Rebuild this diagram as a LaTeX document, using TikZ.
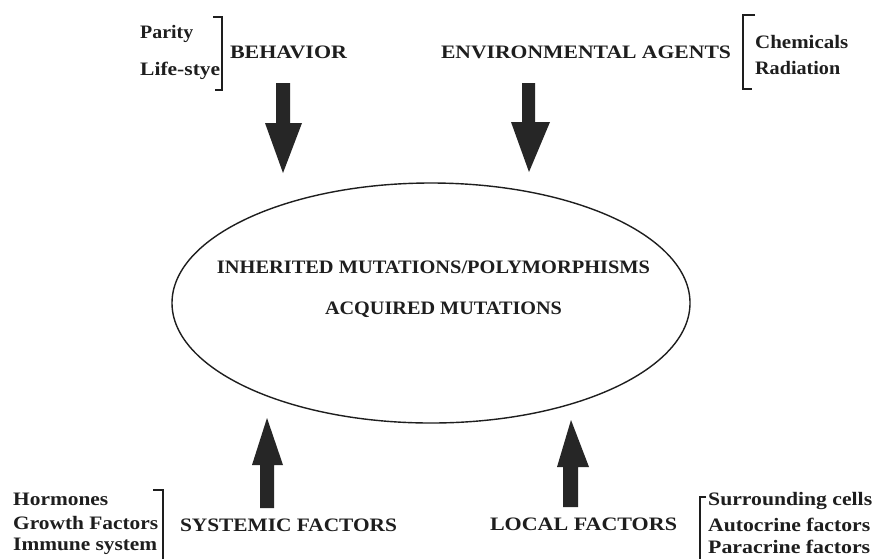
\documentclass[tikz,border=0pt]{standalone}
\usepackage{fontspec}
\usepackage{graphicx}
\setmainfont{Liberation Serif}
\usetikzlibrary{calc}
\definecolor{ink}{HTML}{1E1E1E}
\definecolor{arrowink}{HTML}{262626}
\newcommand{\fitto}[2]{\resizebox{#1}{\height}{#2}}
\tikzset{
  lbl/.style={inner sep=0pt, text=ink, font=\fontsize{19}{21}\selectfont\bfseries},
  brk/.style={draw=ink, line width=1.3pt},
  ell/.style={draw=ink, line width=1.4pt},
  arrowfill/.style={fill=arrowink}
}
\begin{document}
\begin{tikzpicture}[x=1pt,y=-1pt]
\useasboundingbox (0,0) rectangle (874,558);
\fill[white] (0,0) rectangle (874,558);

% central ellipse
\draw[ell] (431,303) ellipse [x radius=259, y radius=120];
\node[lbl] (inh) at (433.5,267) {\fitto{433pt}{INHERITED MUTATIONS/POLYMORPHISMS}};
\node[lbl] (acq) at (443.5,310) {\fitto{237pt}{ACQUIRED MUTATIONS}};

% top left
\node[lbl, anchor=west] (parity) at (140,34) {\fitto{53pt}{Parity}};
\node[lbl, anchor=west] (life) at (140,71) {\fitto{80pt}{Life-stye}};
\draw[brk] (213,17) -- (222,17) -- (222,90) -- (215,90);
\node[lbl] (beh) at (288.5,52) {\fitto{117pt}{BEHAVIOR}};

% top right
\node[lbl] (env) at (586,52) {\fitto{290pt}{ENVIRONMENTAL AGENTS}};
\draw[brk] (755,15) -- (743,15) -- (743,89) -- (752,89);
\node[lbl, anchor=west] (chem) at (755,42) {\fitto{93pt}{Chemicals}};
\node[lbl, anchor=west] (rad) at (755,68) {\fitto{85pt}{Radiation}};

% bottom left
\node[lbl, anchor=west] (horm) at (13,499) {\fitto{95pt}{Hormones}};
\node[lbl, anchor=west] (growth) at (13,523) {\fitto{145pt}{Growth Factors}};
\node[lbl, anchor=west] (immune) at (13,546) {\fitto{144pt}{Immune system}};
\draw[brk] (153,490) -- (163,490) -- (163,560);
\node[lbl] (sys) at (288.5,525) {\fitto{217pt}{SYSTEMIC FACTORS}};

% bottom right
\node[lbl] (loc) at (583.5,524) {\fitto{187pt}{LOCAL FACTORS}};
\draw[brk] (706,497) -- (700,497) -- (700,560);
\node[lbl, anchor=west] (surr) at (708,501) {\fitto{164pt}{Surrounding cells}};
\node[lbl, anchor=west] (auto) at (708,525) {\fitto{162pt}{Autocrine factors}};
\node[lbl, anchor=west] (para) at (708,547) {\fitto{162pt}{Paracrine factors}};

% arrows
\coordinate (bs) at (283,83);  \coordinate (be) at (283,173);
\coordinate (es) at (529,83);  \coordinate (ee) at (529,172);
\coordinate (ss) at (267,508); \coordinate (se) at (267,418);
\coordinate (ls) at (571,507); \coordinate (le) at (571,420);

\fill[arrowfill] ($(bs)+(-7,0)$) -- ($(bs)+(7,0)$) -- ($(be)+(7,-50)$) -- ($(be)+(19,-50)$)
  -- (be) -- ($(be)+(-18,-50)$) -- ($(be)+(-7,-50)$) -- cycle;
\fill[arrowfill] ($(es)+(-7,0)$) -- ($(es)+(6,0)$) -- ($(ee)+(6,-50)$) -- ($(ee)+(21,-50)$)
  -- (ee) -- ($(ee)+(-18,-50)$) -- ($(ee)+(-7,-50)$) -- cycle;
\fill[arrowfill] ($(ss)+(-7,0)$) -- ($(ss)+(7,0)$) -- ($(se)+(7,47)$) -- ($(se)+(16,47)$)
  -- (se) -- ($(se)+(-15,47)$) -- ($(se)+(-7,47)$) -- cycle;
\fill[arrowfill] ($(ls)+(-8,0)$) -- ($(ls)+(7,0)$) -- ($(le)+(7,47)$) -- ($(le)+(18,47)$)
  -- (le) -- ($(le)+(-14,47)$) -- ($(le)+(-8,47)$) -- cycle;
\end{tikzpicture}
\end{document}
